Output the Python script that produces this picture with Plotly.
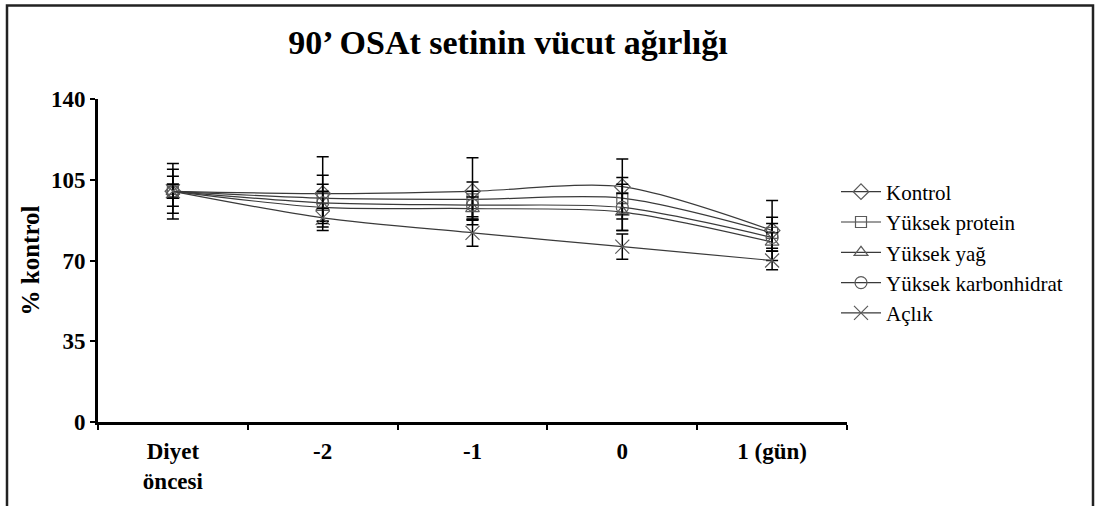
import plotly.graph_objects as go

categories = ["Diyet<br>öncesi", "-2", "-1", "0", "1 (gün)"]

kontrol = [100, 99, 100, 102, 83]
kontrol_err = [12, 16, 14.5, 12, 13]

protein = [100, 97, 96.5, 97, 82]
protein_err = [9.5, 10, 7.5, 9, 6.7]

yag = [100, 93, 92.5, 91, 78]
yag_err = [6.5, 7, 5, 8, 4]

karb = [100, 95, 94, 93, 80]
karb_err = [3, 8, 6, 10, 6]

aclik = [100, 88.5, 82, 76, 70]
aclik_err = [3, 4, 5.8, 5.5, 4]

series = [
    ("Kontrol", kontrol, kontrol_err, "diamond-open", 12),
    ("Yüksek protein", protein, protein_err, "square-open", 11),
    ("Yüksek yağ", yag, yag_err, "triangle-up-open", 12),
    ("Yüksek karbonhidrat", karb, karb_err, "circle-open", 12),
    ("Açlık", aclik, aclik_err, "x-thin-open", 14),
]

fig = go.Figure()
for name, vals, errs, sym, sz in series:
    fig.add_trace(go.Scatter(
        x=categories, y=vals, name=name, mode="lines+markers",
        line=dict(color="#3a3a3a", width=1.2, shape="spline", smoothing=0.8),
        marker=dict(symbol=sym, size=sz, color="#5a5a5a",
                    line=dict(color="#5a5a5a", width=1.2)),
        error_y=dict(type="data", array=errs, visible=True,
                     color="black", thickness=1.5, width=6),
    ))

W, H = 1101, 506
L, R, T, B = 98, 1101 - 847, 99, 506 - 424
pw, ph = W - L - R, H - T - B

def px2x(p):
    return (p - L) / pw

def px2y(p):
    return (H - B - p) / ph

fig.add_shape(type="rect", xref="paper", yref="paper",
              x0=px2x(7), x1=px2x(1093), y0=px2y(540), y1=px2y(5),
              line=dict(color="#222222", width=2.5), fillcolor="rgba(0,0,0,0)")

FS = "Liberation Serif"

fig.update_layout(
    width=W, height=H,
    margin=dict(l=L, r=R, t=T, b=B),
    paper_bgcolor="white", plot_bgcolor="white",
    font=dict(family=FS, color="black"),
    title=dict(text="<b>90’ OSAt setinin vücut ağırlığı</b>",
               x=508 / W, xanchor="center", y=1 - 42 / H, yanchor="middle",
               font=dict(size=34, family=FS, color="black")),
    showlegend=True,
    legend=dict(x=px2x(836), y=px2y(172), xanchor="left", yanchor="top",
                font=dict(size=21, family=FS, color="black"),
                bgcolor="rgba(0,0,0,0)", tracegroupgap=0, itemwidth=40),
    xaxis=dict(type="category", range=[-0.5, 4.5], tickson="boundaries",
               ticks="outside", ticklen=5, tickwidth=2, tickcolor="black",
               showline=True, linecolor="black", linewidth=3,
               showgrid=False, zeroline=False, ticklabelstandoff=6,
               tickfont=dict(size=23, family=FS, color="black", weight="bold")),
    yaxis=dict(range=[0, 140], tickvals=[0, 35, 70, 105, 140],
               ticks="outside", ticklen=5, tickwidth=2, tickcolor="black",
               showline=True, linecolor="black", linewidth=3,
               showgrid=False, zeroline=False,
               tickfont=dict(size=23, family=FS, color="black", weight="bold"),
               title=dict(text="<b>% kontrol</b>", standoff=5,
                          font=dict(size=25, family=FS, color="black"))),
)

fig.write_html("out.html", config={"displayModeBar": False},
               post_script="document.body.style.margin='0';")
